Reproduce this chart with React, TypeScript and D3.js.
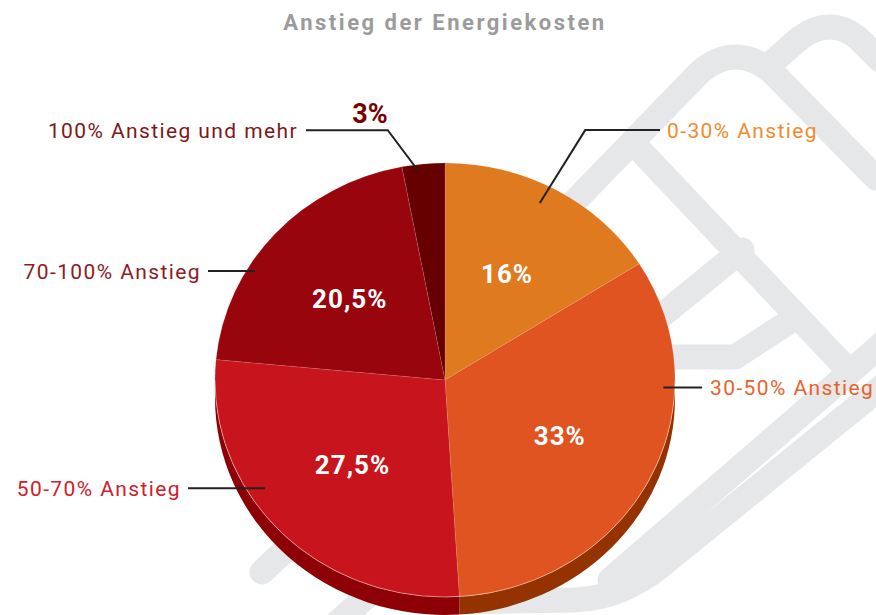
import React from "react";
import * as d3 from "d3";

const categories = ["0-30% Anstieg", "30-50% Anstieg", "50-70% Anstieg", "70-100% Anstieg", "100% Anstieg und mehr"];
const values = [16, 33, 27.5, 20.5, 3];
const valueLabels = ["16%", "33%", "27,5%", "20,5%", "3%"];
const title = "Anstieg der Energiekosten";

const topColors = ["#E07A1F", "#DF5420", "#C8151D", "#98050D", "#660000"];
const sideColors = ["#9A4A08", "#943300", "#8C0006", "#6A0008", "#450000"];
const textColors = ["#F28A2E", "#E9622B", "#D0202A", "#8E1B1E", "#7E1719"];

// leader layout: start angle/radius factor on the pie, optional elbow angle/radius factor, end x, text x
const leaders = [
  { a0: 26.8, r0: 0.914, a1: 27.9, r1: 1.303, endX: 660, textX: 667, anchor: "start" },
  { a0: 92.1, r0: 0.95, a1: 0, r1: 0, endX: 702, textX: 710, anchor: "start" },
  { a0: 237.5, r0: 0.928, a1: 0, r1: 0, endX: 188, textX: 181, anchor: "end" },
  { a0: 301.3, r0: 0.967, a1: 0, r1: 0, endX: 208, textX: 201, anchor: "end" },
  { a0: 353, r0: 0.975, a1: 347.8, r1: 1.178, endX: 306, textX: 298, anchor: "end" },
];

// decorative background outline (light grey plug graphic)
const bgPaths = [
  "M 450 330 L 700 72 Q 735 42 772 72 L 876 178",
  "M 768 66 L 800 38 Q 830 16 858 38 L 880 60",
  "M 636 146 L 850 372 L 900 328",
  "M 850 372 L 610 580",
  "M 742 250 L 650 325",
  "M 650 357 L 735 357 L 795 318",
  "M 900 372 L 662 565 Q 622 598 575 600 L 430 602",
  "M 262 572 L 360 480",
  "M 335 625 L 440 530",
];

export default function App() {
  const W = 876, H = 615;
  const cx = 445, cy = 380, rx = 230, ry = 217, depth = 18;
  const pie = d3.pie<number>().sort(null).startAngle(0).endAngle(2 * Math.PI);
  const arcs = pie(values);
  const pt = (a: number, f = 1, dy = 0): [number, number] => [cx + rx * f * Math.sin(a), cy - ry * f * Math.cos(a) + dy];
  const rad = (deg: number) => (deg * Math.PI) / 180;

  const topPath = (a0: number, a1: number) => {
    const p0 = pt(a0), p1 = pt(a1);
    const large = a1 - a0 > Math.PI ? 1 : 0;
    return `M ${cx} ${cy} L ${p0[0]} ${p0[1]} A ${rx} ${ry} 0 ${large} 1 ${p1[0]} ${p1[1]} Z`;
  };
  const sidePath = (a0: number, a1: number) => {
    const s = Math.max(a0, Math.PI / 2), e = Math.min(a1, (3 * Math.PI) / 2);
    if (s >= e) return null;
    const t0 = pt(s), t1 = pt(e), b1 = pt(e, 1, depth), b0 = pt(s, 1, depth);
    return `M ${t0[0]} ${t0[1]} A ${rx} ${ry} 0 0 1 ${t1[0]} ${t1[1]} L ${b1[0]} ${b1[1]} A ${rx} ${ry} 0 0 0 ${b0[0]} ${b0[1]} Z`;
  };
  const rimPath = (() => {
    const a = pt(Math.PI / 2), b = pt((3 * Math.PI) / 2);
    return `M ${a[0]} ${a[1]} A ${rx} ${ry} 0 0 1 ${b[0]} ${b[1]}`;
  })();

  const font = "Roboto, 'DejaVu Sans', sans-serif";

  return (
    <svg width={W} height={H} viewBox={`0 0 ${W} ${H}`} style={{ position: "absolute", left: 0, top: 0, background: "#fff" }}>
      <g fill="none" stroke="#E6E7E8" strokeWidth={25} strokeLinejoin="round" strokeLinecap="round">
        {bgPaths.map((d, i) => <path key={i} d={d} />)}
      </g>
      <text x={cx} y={30} textAnchor="middle" fontFamily={font} fontWeight={700} fontSize={22} letterSpacing={2.5} fill="#9B9B9B">{title}</text>
      {arcs.map((a, i) => {
        const d = sidePath(a.startAngle, a.endAngle);
        return d ? <path key={"s" + i} d={d} fill={sideColors[i]} /> : null;
      })}
      {arcs.map((a, i) => (
        <path key={"t" + i} d={topPath(a.startAngle, a.endAngle)} fill={topColors[i]} stroke="rgba(255,255,255,0.18)" strokeWidth={0.6} />
      ))}
      <path d={rimPath} fill="none" stroke="rgba(255,220,200,0.45)" strokeWidth={1} />
      {arcs.slice(0, 4).map((a, i) => {
        const m = (a.startAngle + a.endAngle) / 2;
        const [x, y] = pt(m, 0.56);
        return (
          <text key={"v" + i} x={x} y={y} dy="0.36em" textAnchor="middle" fontFamily={font} fontWeight={700} fontSize={26} letterSpacing={1} fill="#fff">{valueLabels[i]}</text>
        );
      })}
      {leaders.map((l, i) => {
        const p0 = pt(rad(l.a0), l.r0);
        const p1 = l.r1 ? pt(rad(l.a1), l.r1) : p0;
        const yLine = p1[1];
        const pts = l.r1 ? [p0, p1, [l.endX, yLine]] : [p0, [l.endX, yLine]];
        return (
          <g key={"l" + i}>
            <polyline points={pts.map((p) => p.join(",")).join(" ")} fill="none" stroke="#222" strokeWidth={2} />
            <text x={l.textX} y={yLine} dy="0.36em" textAnchor={l.anchor as any} fontFamily={font} fontSize={21} letterSpacing={1.4} fill={textColors[i]}>{categories[i]}</text>
            {i === 4 ? (
              <text x={p1[0]} y={p1[1] - 7} textAnchor="end" fontFamily={font} fontWeight={700} fontSize={27} fill="#7A0000">{valueLabels[i]}</text>
            ) : null}
          </g>
        );
      })}
    </svg>
  );
}
